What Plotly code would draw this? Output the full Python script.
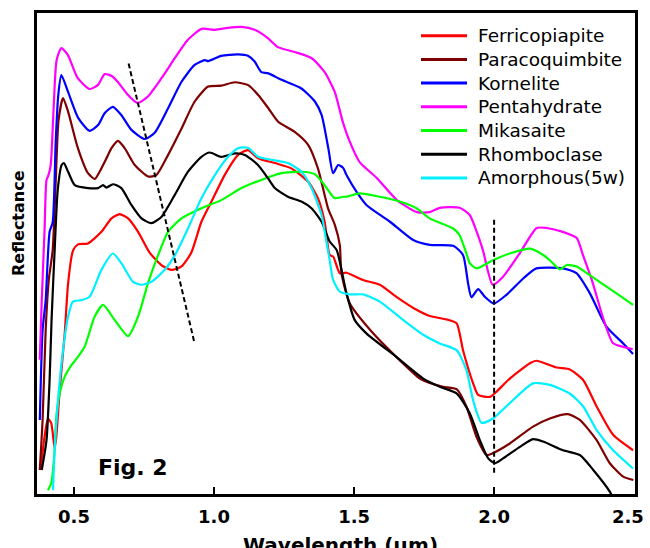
import plotly.graph_objects as go

# ---------------- data (wavelength in µm, reflectance in arbitrary units 0-100) -------------
names = ["Ferricopiapite", "Paracoquimbite", "Kornelite", "Pentahydrate",
         "Mikasaite", "Rhomboclase", "Amorphous(5w)"]
colors = ["#FF0000", "#7F0000", "#0000FF", "#FF00FF", "#00FF00", "#000000", "#00F0FF"]

ferri_x = [0.378, 0.383, 0.395, 0.407, 0.419, 0.431, 0.437, 0.449, 0.467, 0.479, 0.496, 0.514,
           0.550, 0.598, 0.634, 0.663, 0.693, 0.729, 0.770, 0.812, 0.848, 0.884, 0.919, 0.955,
           0.991, 1.038, 1.086, 1.121, 1.157, 1.217, 1.276, 1.336, 1.371, 1.395, 1.413, 1.426,
           1.449, 1.473, 1.532, 1.592, 1.651, 1.723, 1.770, 1.830, 1.866, 1.889, 1.925, 1.943,
           1.985, 2.009, 2.056, 2.128, 2.151, 2.223, 2.270, 2.318, 2.366, 2.425, 2.496]
ferri_y = [5.0, 6.4, 11.9, 15.7, 14.7, 9.5, 11.9, 21.6, 33.4, 43.8, 50.5, 51.9,
           52.1, 54.5, 57.3, 58.2, 57.3, 54.5, 50.2, 47.6, 46.6, 47.3, 50.2, 56.6,
           60.8, 66.3, 70.5, 71.5, 69.8, 68.8, 67.7, 64.9, 61.5, 56.6, 49.7, 49.3,
           45.9, 46.0, 44.5, 43.5, 41.0, 38.3, 37.0, 36.3, 35.5, 29.9, 23.0, 20.6,
           20.2, 21.3, 24.0, 27.2, 27.7, 26.3, 25.9, 23.7, 18.2, 12.3, 9.1]

para_x = [0.378, 0.388, 0.399, 0.410, 0.424, 0.435, 0.445, 0.461, 0.479, 0.514, 0.550, 0.574,
          0.598, 0.616, 0.634, 0.657, 0.681, 0.717, 0.765, 0.794, 0.836, 0.884, 0.931, 0.979,
          1.026, 1.074, 1.122, 1.157, 1.194, 1.229, 1.288, 1.336, 1.371, 1.407, 1.431, 1.449,
          1.455, 1.485, 1.568, 1.651, 1.735, 1.770, 1.818, 1.866, 1.901, 1.937, 1.973, 1.996,
          2.056, 2.139, 2.199, 2.264, 2.306, 2.366, 2.413, 2.461, 2.497]
para_y = [5.0, 15.4, 34.1, 44.5, 50.7, 65.3, 77.8, 82.3, 79.5, 71.9, 66.7, 65.5,
          67.7, 69.8, 71.9, 73.4, 71.9, 68.4, 66.0, 66.3, 70.5, 76.0, 81.6, 84.7,
          84.9, 85.6, 85.0, 83.0, 80.2, 77.4, 75.3, 72.6, 67.7, 59.4, 56.0, 51.8,
          45.9, 39.6, 33.4, 28.5, 24.0, 23.1, 22.3, 21.8, 18.2, 11.9, 8.1, 8.5,
          10.5, 14.0, 15.7, 16.6, 15.4, 11.2, 6.4, 3.6, 2.9]

korn_x = [0.378, 0.388, 0.399, 0.413, 0.424, 0.435, 0.444, 0.455, 0.479, 0.515, 0.556, 0.586,
          0.610, 0.639, 0.669, 0.705, 0.753, 0.788, 0.836, 0.884, 0.931, 0.967, 0.979, 1.026,
          1.086, 1.121, 1.145, 1.169, 1.192, 1.241, 1.312, 1.360, 1.384, 1.408, 1.425, 1.443,
          1.461, 1.473, 1.509, 1.544, 1.628, 1.711, 1.770, 1.854, 1.889, 1.907, 1.919, 1.943,
          1.967, 1.999, 2.044, 2.104, 2.151, 2.246, 2.294, 2.342, 2.401, 2.461, 2.496]
korn_y = [15.4, 34.1, 40.3, 54.5, 56.5, 73.6, 83.0, 87.1, 83.6, 78.2, 75.5, 76.7,
          79.2, 80.5, 78.8, 75.7, 73.8, 75.1, 80.2, 85.7, 89.2, 90.2, 90.0, 91.1,
          91.4, 91.1, 89.9, 87.7, 87.5, 86.1, 84.3, 81.6, 78.8, 71.9, 66.7, 68.4,
          67.8, 66.3, 62.8, 60.1, 56.6, 52.8, 51.8, 51.6, 49.7, 43.8, 40.9, 42.6,
          41.0, 39.6, 41.4, 44.8, 46.9, 46.9, 45.9, 41.7, 34.8, 31.3, 29.1]

penta_x = [0.378, 0.385, 0.395, 0.402, 0.409, 0.417, 0.427, 0.438, 0.455, 0.478, 0.513, 0.556,
           0.585, 0.610, 0.635, 0.656, 0.692, 0.727, 0.763, 0.813, 0.860, 0.906, 0.956, 1.003,
           1.049, 1.099, 1.145, 1.192, 1.228, 1.288, 1.349, 1.395, 1.431, 1.460, 1.485, 1.520,
           1.581, 1.653, 1.724, 1.770, 1.806, 1.877, 1.913, 1.938, 1.960, 1.995, 2.031, 2.092,
           2.152, 2.188, 2.245, 2.295, 2.317, 2.352, 2.388, 2.424, 2.460, 2.495]
penta_y = [27.9, 40.3, 54.9, 65.3, 66.3, 68.4, 79.8, 90.2, 92.7, 91.3, 86.5, 84.2,
           85.0, 87.3, 86.9, 85.7, 83.0, 81.3, 82.6, 86.5, 90.6, 94.4, 96.7, 96.5,
           96.9, 97.1, 96.5, 94.8, 92.9, 91.9, 90.6, 87.7, 83.6, 77.3, 73.2, 69.0,
           65.7, 61.1, 58.6, 58.6, 59.5, 59.5, 58.0, 54.5, 50.7, 43.5, 45.1, 50.1,
           55.3, 55.3, 54.5, 53.2, 49.7, 43.9, 36.8, 31.4, 30.6, 30.1]

mika_x = [0.407, 0.419, 0.431, 0.437, 0.449, 0.467, 0.491, 0.514, 0.538, 0.574, 0.604, 0.645,
          0.693, 0.729, 0.764, 0.800, 0.836, 0.884, 0.955, 1.026, 1.098, 1.169, 1.241, 1.312,
          1.360, 1.395, 1.431, 1.461, 1.473, 1.520, 1.592, 1.663, 1.723, 1.770, 1.854, 1.877,
          1.901, 1.913, 1.937, 1.996, 2.056, 2.128, 2.175, 2.199, 2.235, 2.259, 2.294, 2.366,
          2.437, 2.496]
mika_y = [0.8, 2.3, 9.1, 16.1, 20.9, 24.4, 26.8, 28.5, 30.6, 36.9, 39.3, 36.2,
          32.8, 36.9, 43.8, 49.6, 54.5, 57.3, 59.4, 61.1, 63.6, 65.3, 66.7, 67.0,
          66.5, 64.2, 61.5, 61.8, 61.8, 62.5, 61.8, 60.8, 59.4, 57.3, 55.2, 53.8,
          50.0, 48.0, 46.9, 48.6, 50.0, 51.0, 49.7, 48.6, 46.7, 47.6, 47.3, 44.5,
          41.7, 39.3]

rhomb_x = [0.385, 0.402, 0.413, 0.420, 0.431, 0.442, 0.456, 0.464, 0.479, 0.503, 0.550, 0.586,
           0.604, 0.616, 0.639, 0.669, 0.705, 0.741, 0.776, 0.812, 0.860, 0.907, 0.955, 0.985,
           1.026, 1.074, 1.110, 1.157, 1.193, 1.217, 1.264, 1.312, 1.348, 1.384, 1.413, 1.438,
           1.473, 1.502, 1.544, 1.651, 1.747, 1.806, 1.866, 1.913, 1.949, 1.979, 2.003, 2.032,
           2.092, 2.139, 2.175, 2.246, 2.306, 2.354, 2.413, 2.430]
rhomb_y = [5.0, 11.2, 23.7, 36.2, 50.7, 63.2, 68.4, 68.8, 67.0, 64.2, 63.6, 63.6,
           64.2, 63.7, 64.4, 63.6, 60.1, 57.3, 56.3, 57.6, 62.2, 67.0, 70.1, 71.0,
           70.1, 70.8, 70.5, 68.4, 65.6, 63.6, 61.8, 60.8, 59.4, 56.6, 52.5, 50.7,
           41.7, 36.2, 33.4, 28.5, 24.0, 22.3, 20.9, 16.8, 11.2, 7.4, 6.4, 7.4,
           9.8, 11.4, 10.9, 9.1, 8.1, 5.0, 0.5, -1.5]

amor_x = [0.425, 0.431, 0.443, 0.461, 0.479, 0.496, 0.526, 0.556, 0.598, 0.639, 0.669, 0.711,
          0.741, 0.776, 0.824, 0.860, 0.907, 0.955, 1.003, 1.050, 1.086, 1.121, 1.157, 1.193,
          1.264, 1.312, 1.348, 1.384, 1.401, 1.413, 1.425, 1.449, 1.485, 1.532, 1.592, 1.675,
          1.747, 1.806, 1.866, 1.901, 1.925, 1.955, 1.996, 2.056, 2.139, 2.199, 2.270, 2.318,
          2.366, 2.425, 2.496]
amor_y = [0.8, 9.1, 19.5, 29.9, 36.9, 40.0, 40.3, 41.0, 46.6, 50.0, 48.0, 44.1,
          43.5, 44.1, 46.6, 49.6, 55.2, 61.5, 66.3, 70.1, 71.9, 72.0, 70.1, 69.6,
          68.8, 67.0, 63.6, 58.0, 52.5, 48.6, 44.5, 42.1, 41.5, 41.5, 40.0, 36.2,
          33.1, 31.3, 29.9, 25.8, 19.5, 14.8, 15.7, 18.9, 23.0, 22.7, 20.9, 18.2,
          13.3, 9.1, 5.3]

series_x = [ferri_x, para_x, korn_x, penta_x, mika_x, rhomb_x, amor_x]
series_y = [ferri_y, para_y, korn_y, penta_y, mika_y, rhomb_y, amor_y]

# dashed guide lines (wavelength, reflectance)
guide1_x = [0.695, 0.929]
guide1_y = [89.5, 31.7]
guide2_x = [2.0, 2.0]
guide2_y = [57.0, 4.0]

x_ticks = [0.5, 1.0, 1.5, 2.0, 2.5]
x_ticklabels = ["0.5", "1.0", "1.5", "2.0", "2.5\u00a0\u00a0"]

# ---------------- figure ----------------
fig = go.Figure()
for nm, c, xs, ys in zip(names, colors, series_x, series_y):
    fig.add_trace(go.Scatter(x=xs, y=ys, mode="lines", name=nm,
                             line=dict(color=c, width=2.2, shape="spline", smoothing=0.6),
                             showlegend=False, cliponaxis=True))

for gx, gy in [(guide1_x, guide1_y), (guide2_x, guide2_y)]:
    fig.add_trace(go.Scatter(x=gx, y=gy, mode="lines", showlegend=False,
                             line=dict(color="black", width=2, dash="5px,3px")))

# manual legend (box styling)
L, R, T, B = 37, 635, 13, 494
W, H = R - L, B - T
def px(xp):
    return (xp - L) / W
def py(yp):
    return (B - yp) / H

row0, step = 35.7, 23.7
for i, (nm, c) in enumerate(zip(names, colors)):
    yy = py(row0 + i * step)
    fig.add_shape(type="line", xref="paper", yref="paper",
                  x0=px(421), x1=px(467), y0=yy, y1=yy,
                  line=dict(color=c, width=3))
    fig.add_annotation(xref="paper", yref="paper", x=px(476), y=yy,
                       xanchor="left", yanchor="middle", showarrow=False,
                       text=nm, font=dict(family="DejaVu Sans", size=18.5, color="black"))

fig.add_annotation(xref="paper", yref="paper", x=px(96), y=py(467),
                   xanchor="left", yanchor="middle", showarrow=False,
                   text="<b>Fig. 2</b>", font=dict(family="DejaVu Sans", size=22, color="black"))
fig.add_annotation(xref="paper", yref="paper", x=px(340), y=py(531),
                   xanchor="center", yanchor="top", showarrow=False,
                   text="<b>Wavelength (µm)</b>", font=dict(family="DejaVu Sans", size=20, color="black"))
fig.add_annotation(xref="paper", yref="paper", x=px(18), y=py(223),
                   xanchor="center", yanchor="middle", showarrow=False, textangle=-90,
                   text="<b>Reflectance</b>", font=dict(family="DejaVu Sans", size=16, color="black"))
fig.add_annotation(xref="paper", yref="paper", x=px(300), y=py(1),
                   xanchor="center", yanchor="bottom", showarrow=False,
                   text="Lab spectra (this study)",
                   font=dict(family="Liberation Serif", size=20, color="black"))

fig.update_layout(
    width=650, height=548,
    margin=dict(l=L, r=650 - R, t=T, b=548 - B, autoexpand=False),
    paper_bgcolor="white", plot_bgcolor="white",
    showlegend=False,
    font=dict(family="DejaVu Sans", color="black"),
    xaxis=dict(range=[0.368, 2.503], tickvals=x_ticks, ticktext=x_ticklabels,
               automargin=False,
               ticks="inside", ticklen=7, tickwidth=2, tickcolor="black",
               ticklabelstandoff=4, ticklabeloverflow="allow",
               showline=True, linewidth=3, linecolor="black", mirror=True,
               showgrid=False, zeroline=False,
               tickfont=dict(family="DejaVu Sans", size=18, color="black", weight="bold")),
    yaxis=dict(range=[0, 100], showticklabels=False, ticks="", automargin=False,
               showline=True, linewidth=3, linecolor="black", mirror=True,
               showgrid=False, zeroline=False),
)

fig.write_html("out.html", config={"displayModeBar": False},
               post_script="document.body.style.margin='0px';document.body.style.overflow='hidden';")
